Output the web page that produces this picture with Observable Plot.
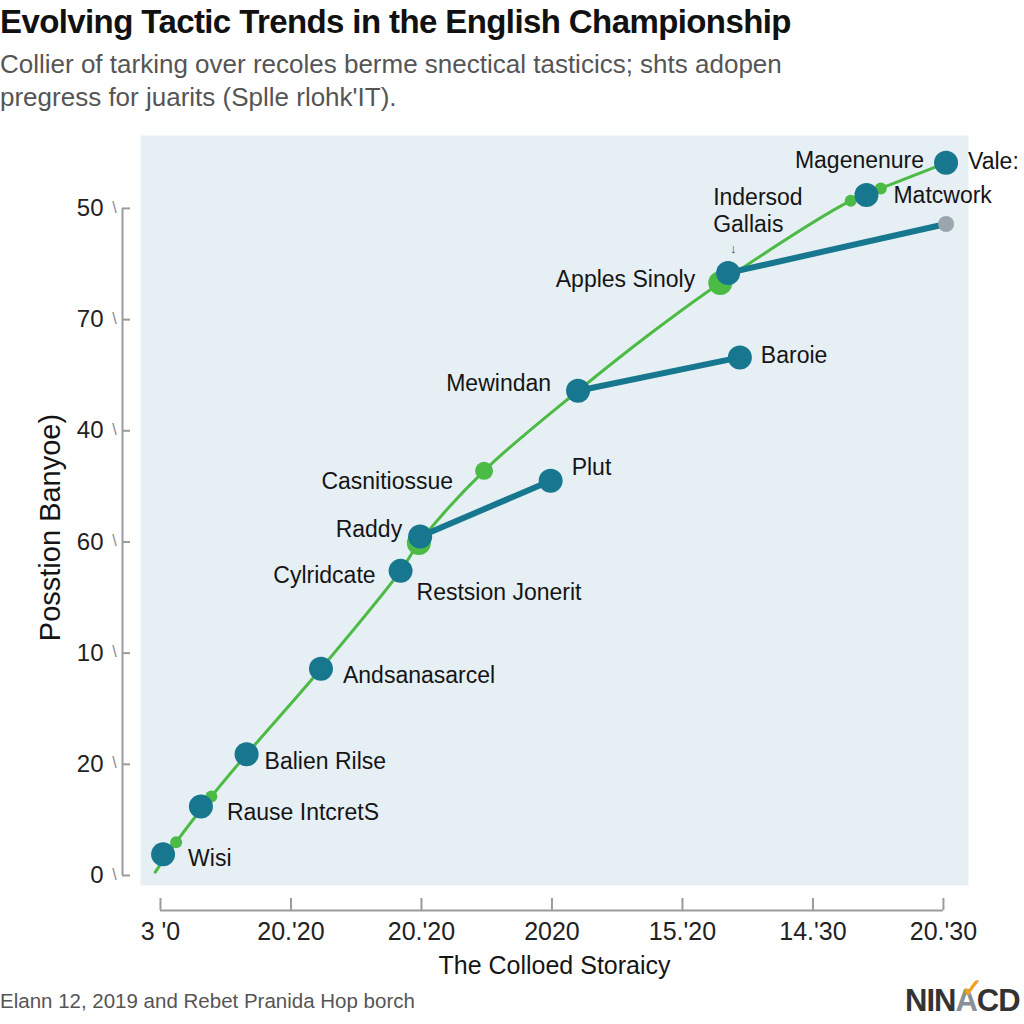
<!DOCTYPE html>
<html><head><meta charset="utf-8">
<script src="https://cdn.jsdelivr.net/npm/d3@7"></script>
<script src="https://cdn.jsdelivr.net/npm/@observablehq/plot@0.6"></script>
<style>
body{margin:0;background:#fff;font-family:"Liberation Sans",Arial,sans-serif;width:1024px;height:1024px;overflow:hidden;position:relative}
#title{position:absolute;left:0;top:3px;font-size:33px;font-weight:bold;color:#111;letter-spacing:-0.6px;white-space:nowrap}
#sub{position:absolute;left:0;top:48px;font-size:26px;line-height:33px;color:#555;white-space:nowrap}
#chart{position:absolute;left:0;top:120px}
#caption{position:absolute;left:0;top:989px;font-size:20.5px;color:#555;white-space:nowrap}
#logo{position:absolute;left:905px;top:983px;font-size:31px;font-weight:bold;color:#333;letter-spacing:-1px;white-space:nowrap}
#logo .a{color:#8a9096;position:relative}
#logo .a::after{content:"✓";position:absolute;left:6px;top:-10px;color:#f0a020;font-size:26px}
</style>
</head><body>
<div id="title">Evolving Tactic Trends in the English Championship</div>
<div id="sub">Collier of tarking over recoles berme snectical tasticics; shts adopen<br>pregress for juarits (Splle rlohk'IT).</div>
<div id="chart"></div>
<div id="caption">Elann 12, 2019 and Rebet Pranida Hop borch</div>
<div id="logo">NIN<span class="a">A</span>CD</div>
<script>
// ---- data ----
const xTickValues = [0, 1, 2, 3, 4, 5, 6];
const xTickLabels = ["3 '0", "20.'20", "20.'20", "2020", "15.'20", "14.'30", "20.'30"];
const yTickValues = [0, 1, 2, 3, 4, 5, 6];
const yTickLabels = ["0", "20", "10", "60", "40", "70", "50"];

// green trend curve
const greenX = [-0.04, 0.12, 0.39, 0.66, 1.23, 1.84, 1.98, 2.48, 3.20, 3.76, 4.29, 5.29, 5.52, 6.02];
const greenY = [0.03, 0.30, 0.71, 1.09, 1.86, 2.74, 2.99, 3.64, 4.36, 4.88, 5.33, 6.07, 6.18, 6.41];
// green markers on the curve
const greenDotX = [0.12, 0.39, 1.98, 2.48, 4.29, 5.29, 5.52];
const greenDotY = [0.30, 0.71, 2.99, 3.64, 5.33, 6.07, 6.18];
const greenDotSize = ["s", "s", "l", "m", "l", "s", "s"];

// teal tactic points
const tealNames = ["Wisi", "Rause IntcretS", "Balien Rilse", "Andsanasarcel", "Cylridcate", "Raddy", "Plut", "Mewindan", "Baroie", "Apples Sinoly", "Matcwork", "Magenenure"];
const tealX = [0.02, 0.31, 0.66, 1.23, 1.84, 1.99, 2.99, 3.20, 4.44, 4.35, 5.41, 6.02];
const tealY = [0.19, 0.62, 1.09, 1.86, 2.74, 3.05, 3.55, 4.36, 4.66, 5.42, 6.12, 6.41];
// teal connecting segments
const segments = [["Raddy", "Plut"], ["Mewindan", "Baroie"], ["Apples Sinoly", "grey"]];
const greyX = [6.02];
const greyY = [5.86];

// extra annotations
const extraNotes = ["Restsion Jonerit", "Casnitiossue", "Indersod\nGallais", "Vale:"];

// ---- build ----
const teal = tealNames.map((n, i) => ({name: n, x: tealX[i], y: tealY[i]}));
const green = greenX.map((x, i) => ({x, y: greenY[i]}));
const greenDots = greenDotX.map((x, i) => ({x, y: greenDotY[i], s: greenDotSize[i]}));
const grey = greyX.map((x, i) => ({x, y: greyY[i]}));
const byName = Object.fromEntries(teal.map(d => [d.name, d]));
byName.grey = grey[0];
const segData = segments.flatMap((s, k) => s.map(n => ({...byName[n], seg: k})));

const TEAL = "#16778e", GREEN = "#4cbb45", GREY = "#9aa6ae", AXIS = "#9b9b9b", TXT = "#151515";
const FS = 23;
const dotR = {s: 6, m: 9, l: 12};

// label placement (pixels relative to anchor point)
const labelPlace = {
  "Wisi": [25, 4, "start"],
  "Rause IntcretS": [26, 6, "start"],
  "Balien Rilse": [18, 7, "start"],
  "Andsanasarcel": [22, 7, "start"],
  "Cylridcate": [-25, 5, "end"],
  "Raddy": [-18, -7, "end"],
  "Plut": [21, -13, "start"],
  "Mewindan": [-27, -7, "end"],
  "Baroie": [21, -2, "start"],
  "Apples Sinoly": [-33, 7, "end"],
  "Matcwork": [27, 1, "start"],
  "Magenenure": [-22, -2, "end"]
};
const labelMarks = teal.map(d => {
  const [dx, dy, ta] = labelPlace[d.name];
  return Plot.text([d], {x: "x", y: "y", text: "name", dx, dy, textAnchor: ta, fontSize: FS, fill: TXT});
});
const noteAnchors = [byName["Cylridcate"], greenDots[3], byName["Apples Sinoly"], byName["Magenenure"]];
const notePlace = [[16, 21, "start"], [-31, 10, "end"], [-15, -63, "start"], [22, -2, "start"]];
const noteMarks = extraNotes.map((t, i) => {
  const [dx, dy, ta] = notePlace[i];
  return Plot.text([noteAnchors[i]], {x: "x", y: "y", text: () => t, dx, dy, textAnchor: ta, fontSize: FS, fill: TXT, lineHeight: 1.17});
});

const xDomain = [-0.153, 6.192];
const yDomain = [-0.09, 6.656];

const chart = Plot.plot({
  width: 1024,
  height: 870,
  marginTop: 15,
  marginBottom: 105,
  marginLeft: 140,
  marginRight: 56,
  style: {fontFamily: "'Liberation Sans', Arial, sans-serif", background: "transparent"},
  x: {domain: xDomain},
  y: {domain: yDomain},
  r: {type: "identity"},
  marks: [
    Plot.frame({fill: "#e5eff4", stroke: null}),
    Plot.ruleX([xDomain[0]], {y1: yTickValues[0], y2: yTickValues[yTickValues.length - 1], dx: -18, stroke: AXIS, strokeWidth: 2}),
    Plot.ruleY([yDomain[0]], {x1: xTickValues[0], x2: xTickValues[xTickValues.length - 1], dy: 25, stroke: AXIS, strokeWidth: 2}),
    Plot.axisY({ticks: yTickValues, tickFormat: d => yTickLabels[yTickValues.indexOf(d)], tickSize: 8, dx: -10, tickPadding: 19, fontSize: 24, stroke: AXIS, fill: "#222", label: null, strokeWidth: 2}),
    // small hook between each y tick label and the axis line
    Plot.text(yTickValues, {y: d => d, frameAnchor: "left", dx: -26, dy: -1, text: () => "\\", fontSize: 16, fill: "#8a8a8a", textAnchor: "middle"}),
    Plot.axisX({ticks: xTickValues, tickFormat: d => xTickLabels[xTickValues.indexOf(d)], tickSize: 12, dy: 13, tickPadding: 12, fontSize: 25, stroke: AXIS, fill: "#222", label: null, strokeWidth: 2}),
    Plot.text(["The Colloed Storaicy"], {frameAnchor: "bottom", dy: 88, fontSize: 25, fill: TXT}),
    Plot.text(["Posstion Banyoe)"], {frameAnchor: "left", textAnchor: "middle", dx: -90, dy: 17, rotate: -90, fontSize: 29, fill: TXT}),
    Plot.line(green, {x: "x", y: "y", curve: "catmull-rom", stroke: GREEN, strokeWidth: 3}),
    Plot.line(segData, {x: "x", y: "y", z: "seg", stroke: TEAL, strokeWidth: 6, strokeLinecap: "round"}),
    Plot.dot(greenDots, {x: "x", y: "y", r: d => dotR[d.s], fill: GREEN}),
    Plot.dot(grey, {x: "x", y: "y", r: 8, fill: GREY}),
    Plot.dot(teal, {x: "x", y: "y", r: 12, fill: TEAL}),
    Plot.text([byName["Apples Sinoly"]], {x: "x", y: "y", text: () => "↓", dx: 5, dy: -24, fontSize: 13, fontWeight: "bold", fill: "#1a4a7a"}),
    ...labelMarks,
    ...noteMarks
  ]
});
document.getElementById("chart").appendChild(chart);
</script>
</body></html>
